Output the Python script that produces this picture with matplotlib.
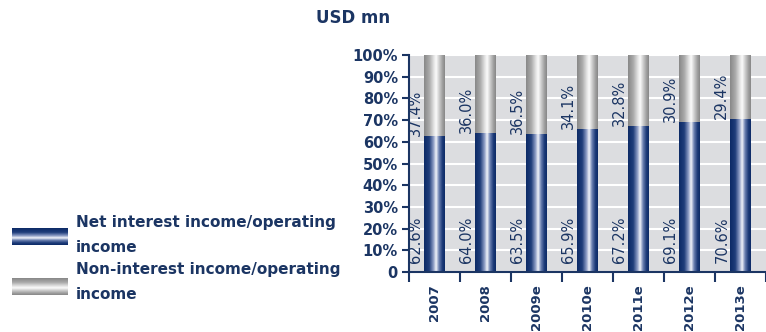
import numpy as np
import matplotlib
matplotlib.use("Agg")
import matplotlib.pyplot as plt
from matplotlib.colors import LinearSegmentedColormap

years = ["2007", "2008", "2009e", "2010e", "2011e", "2012e", "2013e"]
net_interest = [62.6, 64.0, 63.5, 65.9, 67.2, 69.1, 70.6]
non_interest = [37.4, 36.0, 36.5, 34.1, 32.8, 30.9, 29.4]
y_ticks = [0, 10, 20, 30, 40, 50, 60, 70, 80, 90, 100]
y_tick_labels = ["0"] + [f"{v}%" for v in y_ticks[1:]]

NAVY = "#1b3563"

blue_cmap = LinearSegmentedColormap.from_list("blue_bar", [
    (0.0, "#0c2a66"), (0.25, "#1f3d7a"), (0.45, "#8c9cc4"),
    (0.58, "#f2f4fa"), (0.72, "#6a7fb0"), (0.88, "#1c3a78"), (1.0, "#0c2a66")])
grey_cmap = LinearSegmentedColormap.from_list("grey_bar", [
    (0.0, "#878787"), (0.25, "#a9a9a9"), (0.45, "#dedede"),
    (0.58, "#fbfbfb"), (0.72, "#cfcfcf"), (0.88, "#a0a0a0"), (1.0, "#878787")])

grad = np.linspace(0, 1, 256).reshape(1, -1)

fig = plt.figure(figsize=(7.66, 3.32), dpi=100)
ax = fig.add_axes([409 / 766, 1 - 272 / 332, 357 / 766, 217 / 332])
ax.set_facecolor("#dcdde0")

x = np.arange(len(years))
width = 0.4
net_bars = ax.bar(x, net_interest, width=width, color="none", zorder=2)
non_bars = ax.bar(x, non_interest, width=width, bottom=net_interest, color="none", zorder=2)


def fill_gradient(rects, cmap):
    for r in rects:
        x0, y0 = r.get_x(), r.get_y()
        ax.imshow(grad, cmap=cmap, aspect="auto", zorder=2,
                  extent=[x0, x0 + r.get_width(), y0, y0 + r.get_height()])


fill_gradient(net_bars, blue_cmap)
fill_gradient(non_bars, grey_cmap)

# value labels sit just left of each bar
for r, net, non in zip(net_bars, net_interest, non_interest):
    lx = r.get_x() - 0.02
    ax.text(lx, net, f"{non:.1f}%", rotation=90, ha="right", va="bottom",
            color=NAVY, fontsize=10.5, zorder=3)
    ax.text(lx, 4.2, f"{net:.1f}%", rotation=90, ha="right", va="bottom",
            color=NAVY, fontsize=10.5, zorder=3)

ax.set_xlim(-0.5, len(years) - 0.5)
ax.set_ylim(0, 100)
ax.set_yticks(y_ticks)
ax.set_yticklabels(y_tick_labels)
ax.yaxis.grid(True, color="white", lw=1.5)
ax.set_axisbelow(True)

ax.set_xticks(x)
ax.set_xticklabels(years, rotation=90)
ax.set_xticks(np.arange(-0.5, len(years)), minor=True)
ax.tick_params(axis="x", which="major", length=0, pad=9)
ax.tick_params(axis="x", which="minor", length=7, width=1.5, color=NAVY)
ax.tick_params(axis="y", length=5, width=1.5, color=NAVY, pad=3)
for lbl in ax.get_xticklabels():
    lbl.set_color(NAVY)
    lbl.set_fontweight("bold")
    lbl.set_fontsize(9.5)
for lbl in ax.get_yticklabels():
    lbl.set_color(NAVY)
    lbl.set_fontweight("bold")
    lbl.set_fontsize(10.5)

for side in ("top", "right"):
    ax.spines[side].set_visible(False)
for side in ("left", "bottom"):
    ax.spines[side].set_color(NAVY)
    ax.spines[side].set_linewidth(1.5)

fig.text(353 / 766, 1 - 18 / 332, "USD mn", ha="center", va="center",
         color=NAVY, fontsize=12, fontweight="bold")

# legend swatches with horizontal shading
legend_items = [
    (blue_cmap, 228, ["Net interest income/operating", "income"], 218),
    (grey_cmap, 278, ["Non-interest income/operating", "income"], 265),
]
vgrad = np.linspace(0, 1, 128).reshape(-1, 1)
for cmap, top, lines, text_top in legend_items:
    sw = fig.add_axes([12 / 766, 1 - (top + 17) / 332, 56 / 766, 17 / 332])
    sw.imshow(vgrad, cmap=cmap, aspect="auto")
    sw.axis("off")
    for i, line in enumerate(lines):
        fig.text(76 / 766, 1 - (text_top - 3 + i * 25) / 332, line, ha="left", va="top",
                 color=NAVY, fontsize=11, fontweight="bold")

fig.savefig("out.png", dpi=100)
